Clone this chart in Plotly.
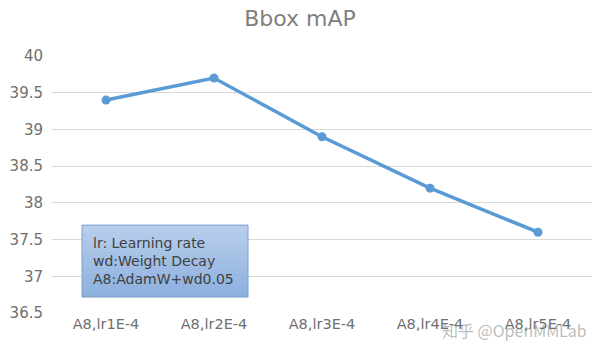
import plotly.graph_objects as go

categories = ["A8,lr1E-4", "A8,lr2E-4", "A8,lr3E-4", "A8,lr4E-4", "A8,lr5E-4"]
bbox_map = [39.4, 39.7, 38.9, 38.2, 37.6]
y_ticks = [36.5, 37, 37.5, 38, 38.5, 39, 39.5, 40]
y_tick_labels = ["36.5", "37", "37.5", "38", "38.5", "39", "39.5", "40"]
note_lines = ["lr: Learning rate", "wd:Weight Decay", "A8:AdamW+wd0.05"]

FONT = "DejaVu Sans"
fig = go.Figure()
fig.add_trace(go.Scatter(
    x=categories, y=bbox_map, mode="lines+markers",
    line=dict(color="#5b9bd5", width=3.5),
    marker=dict(color="#5b9bd5", size=9),
    showlegend=False, hoverinfo="skip"))

# gradient text box (stacked stripes)
x0, x1 = 0.0556, 0.363
y0, y1 = 0.062, 0.342
n = 24
top = (184, 206, 236)
bot = (141, 176, 222)
shapes = []
for i in range(n):
    t = i / (n - 1)
    c = tuple(int(round(top[k] + (bot[k] - top[k]) * t)) for k in range(3))
    ya = y1 - (y1 - y0) * i / n
    yb = y1 - (y1 - y0) * (i + 1) / n
    shapes.append(dict(type="rect", xref="paper", yref="paper", x0=x0, x1=x1,
                       y0=yb, y1=ya, fillcolor="rgb(%d,%d,%d)" % c,
                       line=dict(width=0), layer="above"))
shapes.append(dict(type="rect", xref="paper", yref="paper", x0=x0, x1=x1, y0=y0, y1=y1,
                   fillcolor="rgba(0,0,0,0)", line=dict(color="#7f9fc8", width=1), layer="above"))

fig.update_layout(
    width=600, height=350,
    margin=dict(l=52, r=8, t=56, b=37),
    paper_bgcolor="white", plot_bgcolor="white",
    title=dict(text="Bbox mAP", x=0.5, xanchor="center", y=0.948, yanchor="middle",
               font=dict(family=FONT, size=22, color="#808080")),
    xaxis=dict(type="category", range=[-0.5, 4.5], showgrid=False, showline=False,
               ticks="", tickfont=dict(family=FONT, size=14.5, color="#6f6f6f"), fixedrange=True),
    yaxis=dict(range=[36.5, 40], tickvals=y_ticks, ticktext=y_tick_labels,
               showgrid=True, gridcolor="#d9d9d9", gridwidth=1, zeroline=False, showline=False,
               ticks="", ticklabelstandoff=8,
               tickfont=dict(family=FONT, size=15, color="#6f6f6f")),
    shapes=shapes,
    annotations=[
        dict(text="<br>".join(note_lines), xref="paper", yref="paper",
             x=x0 + 0.016, y=(y0 + y1) / 2, xanchor="left", yanchor="middle", align="left",
             showarrow=False, font=dict(family=FONT, size=14, color="#404040")),
        dict(text="知乎 @OpenMMLab", xref="paper", yref="paper", x=0.995, y=-0.01,
             xanchor="right", yanchor="top", showarrow=False,
             font=dict(family="Noto Sans CJK SC", size=16, color="rgba(120,120,120,0.5)")),
    ],
)
fig.write_html("out.html")
